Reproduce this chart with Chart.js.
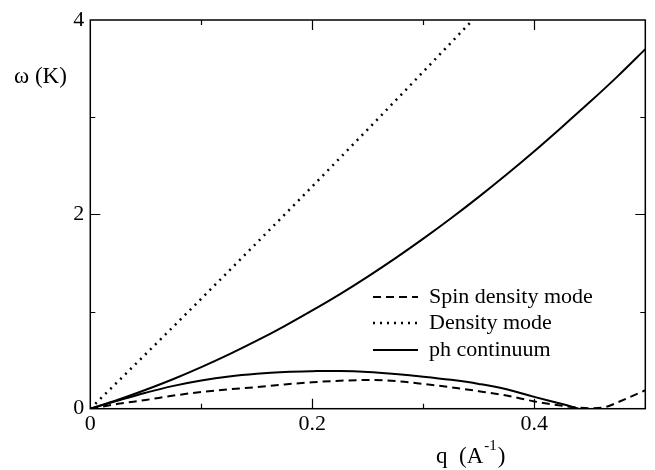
<!DOCTYPE html>
<html>
<head>
<meta charset="utf-8">
<script src="https://cdn.jsdelivr.net/npm/chart.js@4"></script>
<style>
  body { margin: 0; background: #fff; }
</style>
</head>
<body>
<canvas id="myChart" width="655" height="470"></canvas>
<script>
// momentum transfer q (A^-1)
const qGrid = [0, 0.025, 0.05, 0.075, 0.1, 0.125, 0.15, 0.175, 0.2, 0.225, 0.25,
               0.275, 0.3, 0.325, 0.35, 0.375, 0.4, 0.425, 0.45, 0.475, 0.5];

// upper edge of the particle-hole continuum
const phUpper = [0, 0.092, 0.195, 0.306, 0.428, 0.559, 0.70, 0.851, 1.012, 1.18, 1.36,
                 1.55, 1.75, 1.96, 2.18, 2.41, 2.65, 2.90, 3.155, 3.42, 3.70];

// lower edge of the particle-hole continuum (ends where it hits zero)
const qLower = [0, 0.025, 0.05, 0.075, 0.1, 0.125, 0.15, 0.175, 0.2, 0.225, 0.25,
                0.275, 0.3, 0.325, 0.35, 0.375, 0.4, 0.425, 0.44];
const phLower = [0, 0.085, 0.165, 0.235, 0.29, 0.332, 0.36, 0.378, 0.386, 0.388, 0.378,
                 0.357, 0.33, 0.297, 0.255, 0.2, 0.122, 0.048, 0];

// spin density mode
const qSpin = [0, 0.025, 0.05, 0.075, 0.1, 0.125, 0.15, 0.175, 0.2, 0.225, 0.25,
               0.275, 0.3, 0.325, 0.35, 0.375, 0.4, 0.425, 0.45, 0.465, 0.475, 0.5];
const spinMode = [0, 0.05, 0.09, 0.135, 0.172, 0.2, 0.222, 0.25, 0.272, 0.288, 0.295,
                  0.285, 0.255, 0.22, 0.18, 0.135, 0.075, 0.03, 0.005, 0.02, 0.065, 0.19];

// density mode (leaves the frame at 4 K)
const qDens = [0, 0.025, 0.05, 0.075, 0.1, 0.125, 0.15, 0.175, 0.2, 0.225, 0.25,
               0.275, 0.3, 0.325, 0.3445];
const densMode = [0, 0.281, 0.563, 0.847, 1.132, 1.419, 1.707, 1.997, 2.288, 2.581, 2.875,
                  3.171, 3.468, 3.767, 4.0];

const xTicks = [0.1, 0.2, 0.3, 0.4];
const yTicks = [1, 2, 3];

const pts = (xs, ys) => xs.map((x, i) => ({ x: x, y: ys[i] }));
const FONT = '"Liberation Serif", "Times New Roman", serif';

// frame, inward ticks, legend and axis titles
const decor = {
  id: 'decor',
  afterDatasetsDraw(chart) {
    const ctx = chart.ctx;
    const a = chart.chartArea;
    const xs = chart.scales.x, ys = chart.scales.y;
    ctx.save();
    ctx.strokeStyle = '#000';
    ctx.lineWidth = 1.5;
    ctx.strokeRect(a.left, a.top, a.right - a.left, a.bottom - a.top);

    ctx.lineWidth = 1.2;
    ctx.beginPath();
    xTicks.forEach(v => {
      const px = Math.round(xs.getPixelForValue(v)) + 0.5;
      const len = Math.round(v * 10) % 2 === 0 ? 10 : 5;
      ctx.moveTo(px, a.bottom); ctx.lineTo(px, a.bottom - len);
      ctx.moveTo(px, a.top); ctx.lineTo(px, a.top + len);
    });
    yTicks.forEach(v => {
      const py = Math.round(ys.getPixelForValue(v)) + 0.5;
      const len = v % 2 === 0 ? 10 : 5;
      ctx.moveTo(a.left, py); ctx.lineTo(a.left + len, py);
      ctx.moveTo(a.right, py); ctx.lineTo(a.right - len, py);
    });
    ctx.stroke();

    // legend
    ctx.font = '22px ' + FONT;
    ctx.fillStyle = '#000';
    ctx.textBaseline = 'middle';
    ctx.textAlign = 'left';
    const rows = [0, 1, 2].map(i => chart.data.datasets[i]);
    const rowY = [297, 323, 350];
    rows.forEach((ds, i) => {
      ctx.beginPath();
      ctx.lineWidth = ds.borderWidth;
      ctx.setLineDash(ds.borderDash || []);
      ctx.moveTo(373, rowY[i]);
      ctx.lineTo(418, rowY[i]);
      ctx.stroke();
      ctx.setLineDash([]);
      ctx.fillText(ds.label, 429, rowY[i]);
    });

    // axis titles
    ctx.font = '23px ' + FONT;
    ctx.fillText('\u03c9 (K)', 14, 77);
    let x = 436;
    const ty = 457;
    ctx.fillText('q  (A', x, ty);
    x += ctx.measureText('q  (A').width;
    ctx.font = '15px ' + FONT;
    ctx.fillText('-1', x + 1, ty - 11);
    x += ctx.measureText('-1').width + 2;
    ctx.font = '23px ' + FONT;
    ctx.fillText(')', x, ty);
    ctx.restore();
  }
};

const ctx = document.getElementById('myChart').getContext('2d');
const myChart = new Chart(ctx, {
  type: 'line',
  data: {
    datasets: [
      {
        label: 'Spin density mode',
        data: pts(qSpin, spinMode),
        borderColor: '#000',
        borderWidth: 2,
        borderDash: [8, 5],
        cubicInterpolationMode: 'monotone',
        pointRadius: 0
      },
      {
        label: 'Density mode',
        data: pts(qDens, densMode),
        borderColor: '#000',
        borderWidth: 2.5,
        borderDash: [2, 5],
        pointRadius: 0
      },
      {
        label: 'ph continuum',
        data: pts(qGrid, phUpper),
        borderColor: '#000',
        borderWidth: 2,
        cubicInterpolationMode: 'monotone',
        pointRadius: 0
      },
      {
        label: 'ph continuum lower',
        data: pts(qLower, phLower),
        borderColor: '#000',
        borderWidth: 2,
        tension: 0.4,
        pointRadius: 0
      }
    ]
  },
  options: {
    responsive: false,
    animation: false,
    devicePixelRatio: 1,
    layout: { padding: { top: 20, right: 9.7, left: 0, bottom: 0 } },
    plugins: { legend: { display: false }, tooltip: { enabled: false } },
    scales: {
      x: {
        type: 'linear',
        min: 0,
        max: 0.5,
        grid: { display: false, drawTicks: false },
        border: { display: false },
        afterFit: s => { s.height = 61.3; },
        ticks: {
          stepSize: 0.1,
          autoSkip: false,
          maxRotation: 0,
          padding: 2,
          color: '#000',
          font: { family: FONT, size: 22 },
          callback: v => {
            const r = Math.round(v * 10);
            if (r % 2 !== 0 || r > 4) return '';
            return r === 0 ? '0' : (r / 10).toFixed(1);
          }
        }
      },
      y: {
        min: 0,
        max: 4,
        grid: { display: false, drawTicks: false },
        border: { display: false },
        afterFit: s => { s.width = 90.3; },
        ticks: {
          stepSize: 1,
          padding: 6,
          color: '#000',
          font: { family: FONT, size: 22 },
          callback: v => (v % 2 === 0 ? String(v) : '')
        }
      }
    }
  },
  plugins: [decor]
});
</script>
</body>
</html>
